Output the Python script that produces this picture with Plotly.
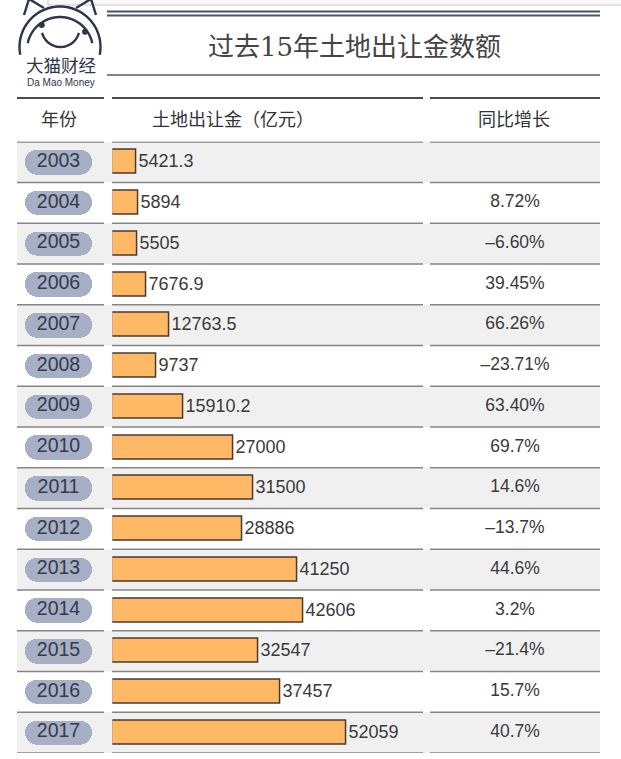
"""
Land transfer revenue table, 2003-2017 (Da Mao Money style infographic)
"""

import numpy as np
import plotly.graph_objects as go

W, H = 621, 759

years = ["2003", "2004", "2005", "2006", "2007", "2008", "2009", "2010",
         "2011", "2012", "2013", "2014", "2015", "2016", "2017"]
revenue = [5421.3, 5894, 5505, 7676.9, 12763.5, 9737, 15910.2, 27000,
           31500, 28886, 41250, 42606, 32547, 37457, 52059]
revenue_labels = ["5421.3", "5894", "5505", "7676.9", "12763.5", "9737",
                  "15910.2", "27000", "31500", "28886", "41250", "42606",
                  "32547", "37457", "52059"]
growth = ["", "8.72%", "–6.60%", "39.45%", "66.26%", "–23.71%", "63.40%",
          "69.7%", "14.6%", "–13.7%", "44.6%", "3.2%", "–21.4%", "15.7%",
          "40.7%"]
headers = ["年份", "土地出让金（亿元）", "同比增长"]
title = "过去15年土地出让金数额"

FONT = "Liberation Sans, Noto Sans CJK SC, sans-serif"
LOGO = "#2c3549"
PILL = "#a6afc4"


def px(x):
    return x / W


def py(y):
    return 1 - y / H


# column extents in pixels
col1 = (17, 104)
col2 = (112, 423)
col3 = (430, 600)
row_top, row_bottom = 141.7, 753
px_per_unit = 4.49 / 1000

fig = go.Figure()

# year pills: two halves, each rounded at its outer end
for half in (0.5, -0.5):
    fig.add_trace(go.Bar(
        x=[half] * len(years), y=years, orientation="h",
        xaxis="x2", yaxis="y",
        width=0.6,
        marker=dict(color=PILL, line=dict(width=0), cornerradius="50%"),
        hoverinfo="skip",
    ))
fig.add_trace(go.Scatter(
    x=[0] * len(years), y=years, mode="text",
    xaxis="x2", yaxis="y",
    text=years,
    textfont=dict(family=FONT, size=19.5, color="#333a4f"),
    hoverinfo="skip",
))

# revenue bars
fig.add_trace(go.Bar(
    x=revenue, y=years, orientation="h",
    xaxis="x", yaxis="y",
    width=0.59,
    marker=dict(color="#ffb866", line=dict(color="#4a3a30", width=1.5)),
    text=revenue_labels,
    textposition="outside", constraintext="none",
    cliponaxis=False,
    textfont=dict(family=FONT, size=18, color="#3a3a3a"),
))

# growth column
fig.add_trace(go.Scatter(
    x=[0.5] * len(years), y=years, mode="text",
    xaxis="x3", yaxis="y",
    text=growth,
    textfont=dict(family=FONT, size=17.5, color="#3a3a3a"),
))

shapes = []

# striped rows
for i in range(0, len(years), 2):
    shapes.append(dict(type="rect", xref="paper", yref="y",
                       x0=px(17), x1=px(600), y0=i - 0.5, y1=i + 0.5,
                       fillcolor="#f1f0f1", line=dict(width=0), layer="below"))

# row separators, split per column
for i in range(-1, len(years)):
    colour = "#4a4a4a" if i == -1 else "#858585"
    for a, b in (col1, col2, col3):
        shapes.append(dict(type="line", xref="paper", yref="y",
                           x0=px(a), x1=px(b), y0=i + 0.5, y1=i + 0.5,
                           line=dict(color=colour, width=1.6)))

# header top lines
for a, b in (col1, col2, col3):
    shapes.append(dict(type="line", xref="paper", yref="paper",
                       x0=px(a), x1=px(b), y0=py(98), y1=py(98),
                       line=dict(color="#4a4a4a", width=2)))

# title rules
for yy in (11.5, 15.5):
    shapes.append(dict(type="line", xref="paper", yref="paper",
                       x0=px(107), x1=px(600), y0=py(yy), y1=py(yy),
                       line=dict(color="#4a5566", width=2)))
shapes.append(dict(type="line", xref="paper", yref="paper",
                   x0=px(107), x1=px(600), y0=py(75), y1=py(75),
                   line=dict(color="#5a5a5a", width=1.5)))

# top strip (cut-off element above)
shapes.append(dict(type="rect", xref="paper", yref="paper",
                   x0=px(48), x1=px(630), y0=py(5), y1=py(-5),
                   fillcolor="#f8f8f8", line=dict(color="#c8c8c8", width=1)))


# logo drawn as polylines
def arc_path(cx, cy, r, t0, t1, n=40):
    t = np.radians(np.linspace(t0, t1, n))
    xs = cx + r * np.cos(t)
    ys = cy - r * np.sin(t)
    return "M " + " L ".join(f"{px(x):.5f},{py(y):.5f}" for x, y in zip(xs, ys))


def poly_path(points):
    return "M " + " L ".join(f"{px(x):.5f},{py(y):.5f}" for x, y in points)


logo_paths = [
    arc_path(60, 47, 40.5, 191, -11),
    arc_path(60, 50, 33, 168, 12),
    arc_path(60.5, 28, 19, 195, 345),
    poly_path([(24, 15), (29, -1), (44, 8)]),
    poly_path([(96, 15), (91, -1), (76, 8)]),
]
for p in logo_paths:
    shapes.append(dict(type="path", xref="paper", yref="paper", path=p,
                       line=dict(color=LOGO, width=2.4)))
for ang in (126, 36):
    cx = 60 + 31 * np.cos(np.radians(ang))
    cy = 50 - 31 * np.sin(np.radians(ang))
    shapes.append(dict(type="circle", xref="paper", yref="paper",
                       x0=px(cx - 3), x1=px(cx + 3), y0=py(cy + 3), y1=py(cy - 3),
                       fillcolor=LOGO, line=dict(width=0)))


def label(text, x, y, size, color, family=FONT):
    return dict(text=text, x=px(x), y=py(y), xref="paper", yref="paper",
                xanchor="center", yanchor="middle", showarrow=False,
                font=dict(family=family, size=size, color=color))


annotations = [
    label("大猫财经", 61, 66, 17.5, LOGO),
    label("Da Mao Money", 60.5, 82.5, 10, LOGO),
    label(title, 354, 47, 26, "#444444",
          family="DejaVu Serif, Noto Sans CJK SC, serif"),
]
header_x = [59, 233, 514]
for text, hx in zip(headers, header_x):
    annotations.append(label(text, hx, 120, 18, "#333333"))

fig.update_layout(
    width=W, height=H,
    margin=dict(l=0, r=0, t=0, b=0),
    paper_bgcolor="white", plot_bgcolor="rgba(0,0,0,0)",
    showlegend=False,
    barmode="relative",
    bargap=0,
    xaxis=dict(domain=[px(col2[0] + 0.3), px(col2[1])],
               range=[0, (col2[1] - col2[0] - 0.3) / px_per_unit],
               visible=False, fixedrange=True),
    xaxis2=dict(domain=[px(25), px(92)], range=[-0.5, 0.5], visible=False,
                anchor="y"),
    xaxis3=dict(domain=[px(col3[0]), px(col3[1])], range=[0, 1],
                visible=False, anchor="y"),
    yaxis=dict(type="category", categoryorder="array", categoryarray=years,
               range=[len(years) - 0.5, -0.5],
               domain=[py(row_bottom), py(row_top)], visible=False),
    shapes=shapes,
    annotations=annotations,
)

fig.write_html("out.html", config={"displayModeBar": False},
               post_script="document.body.style.margin = '0';")
